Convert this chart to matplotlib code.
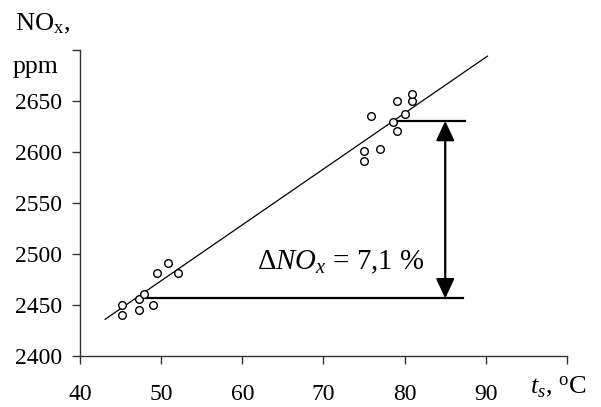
import matplotlib
matplotlib.use("Agg")
import matplotlib.pyplot as plt
from matplotlib.patches import ArrowStyle

plt.rcParams['font.family'] = ['Liberation Serif', 'DejaVu Serif']
plt.rcParams['mathtext.fontset'] = 'custom'
plt.rcParams['mathtext.rm'] = 'Liberation Serif'
plt.rcParams['mathtext.it'] = 'Liberation Serif:italic'

# measured points: bath temperature t_s (C) vs NOx (ppm)
ts = [45.2, 45.2, 47.3, 47.3, 47.9, 49.05, 49.5, 50.9, 52.1,
      75.0, 75.0, 75.9, 77.0, 78.6, 79.05, 79.05, 80.0, 80.9, 80.9]
nox = [2450, 2440, 2456, 2445, 2461, 2450, 2481, 2491, 2481,
       2601, 2591, 2635, 2603, 2629, 2621, 2650, 2637, 2650, 2657]

# trend line end points
line_x = [43.1, 90.2]
line_y = [2436, 2694]

# reference levels for the delta arrow
low_level = 2456.5
high_level = 2630.5
low_span = [47.4, 87.2]
high_span = [79.1, 87.4]
arrow_x = 85.0

xticks = [40, 50, 60, 70, 80, 90, 100]
xtick_labels = ['40', '50', '60', '70', '80', '90', '']
yticks = [2400, 2450, 2500, 2550, 2600, 2650, 2700]
ytick_labels = ['2400', '2450', '2500', '2550', '2600', '2650', '']

fig = plt.figure(figsize=(6.01, 4.07), dpi=100)
ax = fig.add_axes([0.1331, 0.1253, 0.8103, 0.7518])

ax.plot(line_x, line_y, color='black', lw=0.9)
ax.plot(ts, nox, 'o', mfc='white', mec='black', ms=5.5, mew=1.0, zorder=3)

ax.plot(low_span, [low_level, low_level], color='black', lw=1.6)
ax.plot(high_span, [high_level, high_level], color='black', lw=1.6)
ax.annotate('', xy=(arrow_x, high_level), xytext=(arrow_x, low_level),
            arrowprops=dict(arrowstyle=ArrowStyle('<|-|>', head_length=0.6, head_width=0.28),
                            mutation_scale=20, color='black', lw=1.6,
                            shrinkA=0, shrinkB=0))

ax.text(61.8, 2492, r'$\Delta NO_x$ = 7,1 %', fontsize=20.8, va='center', ha='left')

ax.set_xlim(40, 100)
ax.set_ylim(2400, 2700)
ax.set_xticks(xticks)
ax.set_xticklabels(xtick_labels)
ax.set_yticks(yticks)
ax.set_yticklabels(ytick_labels)
ax.tick_params(axis='x', direction='out', length=6, width=1, labelsize=17, pad=14.5, color='#333333')
ax.tick_params(axis='y', direction='out', length=6, width=1, labelsize=17, pad=7, color='#333333')
for side in ['top', 'right']:
    ax.spines[side].set_visible(False)
for side in ['left', 'bottom']:
    ax.spines[side].set_color('#333333')
    ax.spines[side].set_linewidth(1)

fig.text(0.025, 0.925, r'NO$_\mathrm{x}$,', fontsize=19, ha='left', va='baseline')
fig.text(0.021, 0.82, 'ppm', fontsize=18.5, ha='left', va='baseline')
fig.text(0.882, 0.035, r'$t_{s}$, $^\mathrm{o}$C', fontsize=19, ha='left', va='baseline')

fig.savefig('out.png', dpi=100)
